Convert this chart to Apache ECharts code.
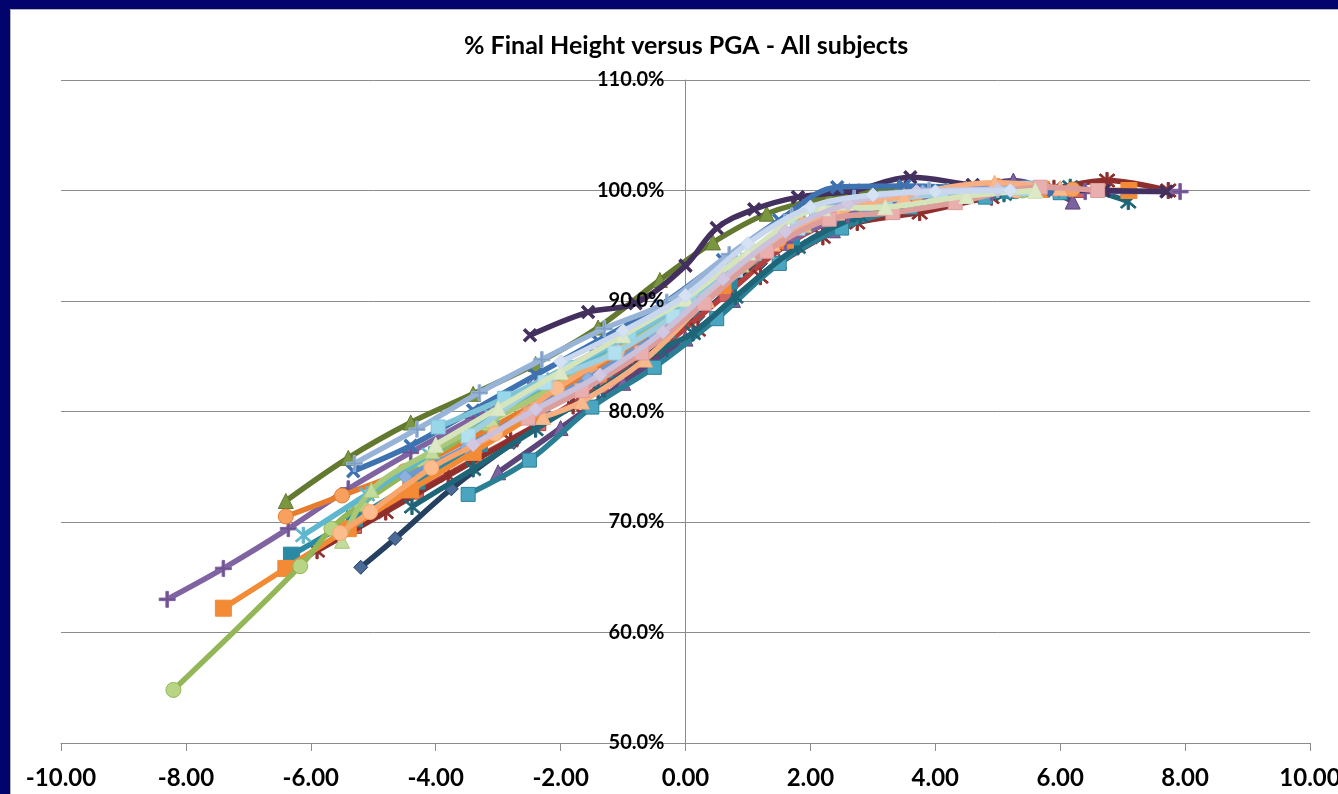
<!DOCTYPE html>
<html>
<head>
<meta charset="utf-8">
<script src="https://cdn.jsdelivr.net/npm/echarts@6/dist/echarts.min.js"></script>
<style>
  html, body { margin: 0; padding: 0; background: #03036e; }
  #frame { position: absolute; left: 10px; top: 9px; right: 0; bottom: 0; background: #fff; border-top: 1px solid #b4b4b4; border-left: 1px solid #b4b4b4; }
  #chart { position: absolute; left: 0; top: 0; width: 1338px; height: 794px; }
</style>
</head>
<body>
<div id="frame"></div>
<div id="chart"></div>
<script>
// PGA (x) vs % of final height (y), one array per subject
const s01 = [[-5.2,65.9],[-4.65,68.5],[-3.75,73.0],[-2.75,77.2],[-1.8,80.6],[-0.8,84.6],[0.2,88.6],[1.2,93.4],[2.2,97.0],[3.3,99.0],[4.5,99.8],[5.8,100.0]]
const s02 = [[-6.31,66.1],[-5.3,69.6],[-4.31,72.7],[-3.34,75.8],[-2.35,78.9],[-1.35,82.3],[-0.35,86.0],[0.65,90.6],[1.65,95.2],[2.7,98.0],[3.9,99.4],[5.2,99.9],[6.3,100.0]]
const s03 = [[-6.4,71.9],[-5.4,75.8],[-4.4,79.0],[-3.4,81.6],[-2.4,84.3],[-1.4,87.6],[-0.41,91.9],[0.44,95.3],[1.3,97.9],[2.3,99.4],[3.4,100.1],[4.7,100.2]]
const s04 = [[-8.3,63.0],[-7.4,65.8],[-6.36,69.4],[-5.4,73.0],[-4.4,76.3],[-3.4,79.4],[-2.4,82.5],[-1.4,85.5],[-0.4,88.4],[0.6,91.9],[1.6,95.3],[2.6,97.8],[3.7,99.2],[4.9,99.8],[6.4,99.9],[7.92,99.9]]
const s05 = [[-8.2,54.8],[-6.17,66.0],[-5.67,69.4],[-5.2,71.6],[-4.2,75.4],[-3.2,78.9],[-2.2,82.3],[-1.2,85.7],[-0.2,89.2],[0.8,93.2],[1.8,96.8],[2.8,98.8],[4.0,99.7],[5.4,100.0]]
const s06 = [[-7.4,62.2],[-6.4,65.8],[-5.4,69.4],[-4.4,72.9],[-3.4,76.3],[-2.4,79.8],[-1.4,83.4],[-0.4,87.1],[0.6,91.4],[1.6,95.5],[2.7,98.3],[4.0,99.6],[5.7,100.1],[7.1,100.0]]
const s07 = [[-6.4,70.5],[-5.5,72.4],[-4.5,74.6],[-3.5,77.4],[-2.5,80.4],[-1.5,83.6],[-0.5,87.0],[0.5,91.2],[1.5,95.5],[2.5,98.2],[3.7,99.6],[5.0,100.4],[6.2,100.1]]
const s08 = [[-3.48,72.5],[-2.5,75.6],[-1.5,80.4],[-0.5,84.0],[0.5,88.4],[1.5,93.4],[2.5,96.6],[3.6,98.5],[4.8,99.4],[6.0,99.8]]
const s09 = [[-2.49,86.9],[-1.56,89.0],[-0.8,89.8],[0.0,93.2],[0.5,96.6],[1.1,98.3],[1.8,99.4],[2.7,100.0],[3.6,101.2],[4.6,100.5],[5.6,100.1],[6.7,100.0],[7.7,99.9]]
const s10 = [[-6.12,68.8],[-5.1,72.5],[-4.1,76.1],[-3.1,79.6],[-2.1,82.9],[-1.1,86.1],[-0.1,89.4],[0.9,93.6],[1.9,97.1],[3.0,99.1],[4.2,99.9],[5.5,100.1]]
const s11 = [[-6.31,67.0],[-5.3,70.3],[-4.3,73.7],[-3.3,77.1],[-2.3,80.4],[-1.3,83.8],[-0.3,87.4],[0.7,91.8],[1.7,95.8],[2.8,98.4],[4.0,99.6],[5.2,100.0]]
const s12 = [[-5.5,68.3],[-5.03,72.9],[-4.06,76.4],[-3.1,79.2],[-2.1,82.2],[-1.1,85.5],[-0.1,89.0],[0.9,93.3],[1.9,96.9],[3.0,98.9],[4.3,99.8],[5.6,100.0]]
const s13 = [[-4.38,71.4],[-3.4,74.8],[-2.4,78.4],[-1.4,81.9],[-0.4,85.6],[0.12,87.1],[0.8,90.4],[1.8,94.9],[2.8,97.7],[3.9,99.1],[5.1,99.7],[6.16,100.3],[7.09,99.0]]
const s14 = [[-5.32,74.6],[-4.4,76.9],[-3.4,80.1],[-2.4,83.3],[-1.4,86.4],[-0.4,89.6],[0.6,93.7],[1.5,97.3],[2.43,100.3],[3.5,100.4],[4.7,100.2],[5.9,100.0]]
const s15 = [[-5.3,75.3],[-4.3,78.4],[-3.3,81.7],[-2.3,84.7],[-1.3,87.5],[-0.3,89.9],[0.7,94.2],[1.7,97.7],[2.7,99.3],[3.9,100.0],[5.0,100.1]]
const s16 = [[-3.96,78.6],[-2.9,81.2],[-1.9,84.0],[-0.9,86.9],[0.1,90.2],[1.1,94.3],[2.1,97.6],[3.2,99.3],[4.4,99.9],[5.5,100.2]]
const s17 = [[-3.48,77.8],[-2.25,82.6],[-1.13,85.3],[-0.2,88.6],[0.8,92.8],[1.8,96.6],[2.9,98.8],[4.1,99.7],[5.4,100.2]]
const s18 = [[-5.53,69.0],[-5.05,70.9],[-4.07,74.9],[-3.05,78.0],[-2.06,82.1],[-1.1,85.4],[-0.1,88.9],[0.9,93.3],[1.9,96.9],[3.0,98.9],[4.2,99.8],[5.3,100.0]]
const s19 = [[-2.52,79.4],[-1.66,81.9],[-0.7,85.3],[0.3,89.8],[1.3,94.5],[2.3,97.4],[3.32,98.0],[4.32,98.9],[5.68,100.3],[6.6,100.0]]
const s20 = [[-4.0,77.0],[-3.0,80.3],[-2.0,83.6],[-1.0,86.9],[0.0,90.2],[1.0,94.4],[2.2,98.4],[3.2,98.5],[4.5,99.5],[5.6,100.0]]
const s21 = [[-2.28,79.5],[-1.66,80.9],[-0.65,84.7],[0.34,90.1],[1.4,95.2],[2.43,98.0],[3.5,99.5],[4.95,100.7],[6.0,100.2]]
const s22 = [[-5.9,67.4],[-4.8,70.9],[-3.8,74.2],[-2.8,77.4],[-1.8,80.5],[-0.8,83.8],[0.2,87.4],[1.2,92.2],[2.2,95.8],[2.75,97.1],[3.75,98.0],[4.9,99.4],[5.9,100.2],[6.75,100.9],[7.73,100.0]]
const s23 = [[-3.4,77.0],[-2.4,80.2],[-1.37,83.3],[-0.36,87.2],[0.6,92.0],[1.6,96.3],[2.6,98.8],[3.7,99.9],[5.0,100.1]]
const s24 = [[-4.49,74.1],[-3.5,76.8],[-2.5,80.0],[-1.56,83.0],[-0.5,86.8],[0.5,91.3],[1.5,95.8],[2.6,98.9],[3.8,99.9],[5.0,100.2]]
const s25 = [[-3.0,74.5],[-2.0,78.5],[-1.0,82.6],[0.0,86.6],[0.76,90.1],[1.5,93.6],[2.36,96.4],[3.3,98.5],[4.3,99.5],[5.25,100.9],[6.2,99.0]]
const s26 = [[-2.0,84.5],[-1.0,87.3],[0.0,90.5],[1.0,95.2],[2.0,98.5],[3.0,99.6],[4.0,99.9],[5.2,100.0]]

const subjects = [s01, s02, s22, s25, s08, s13, s11, s06, s04, s03, s09, s07, s05, s10, s14, s24, s12, s18, s15, s16, s17, s21, s19, s20, s23, s26]

// marker shapes
const PLUS = 'path://M4.2,0H5.8V4.2H10V5.8H5.8V10H4.2V5.8H0V4.2H4.2Z'
const STAR = 'path://M4.4,0H5.6V10H4.4Z M0.7,1.5L1.5,0.7L9.3,8.5L8.5,9.3Z M8.5,0.7L9.3,1.5L1.5,9.3L0.7,8.5Z'
const DASH = 'path://M0,3.8H10V6.2H0Z'

// [line colour, marker, marker fill, rotate] in the same order as subjects
const looks = [
  ['#254061', 'diamond', '#4a6b98', 0],
  ['#b3403d', 'rect', '#d26663', 0],
  ['#8e2f2d', STAR, '#8e2f2d', 0],
  ['#5b4479', 'triangle', '#7a63a0', 0],
  ['#2a7f95', 'rect', '#4aa6c0', 0],
  ['#1f6578', STAR, '#1f6578', 0],
  ['#2b8aa3', DASH, '#2b8aa3', 0],
  ['#f38a36', DASH, '#f38a36', 0],
  ['#8064a2', PLUS, '#6d5290', 0],
  ['#62792f', 'triangle', '#7a9640', 0],
  ['#44305f', PLUS, '#44305f', 45],
  ['#e77c2c', 'circle', '#f7a060', 0],
  ['#93b656', 'circle', '#b7d584', 0],
  ['#5fb7cf', STAR, '#5fb7cf', 0],
  ['#3f72b0', PLUS, '#3f72b0', 45],
  ['#6d97cf', 'diamond', '#8cb1e0', 0],
  ['#a9c978', 'triangle', '#c3db9c', 0],
  ['#f9a66c', 'circle', '#fbbd8e', 0],
  ['#97b4d8', PLUS, '#7f9ec6', 0],
  ['#7cc3d8', 'rect', '#98d6ea', 0],
  ['#9ed0e2', 'rect', '#b3e0ef', 0],
  ['#f7ae80', 'triangle', '#f9b98e', 0],
  ['#dd9d9b', 'rect', '#e9afae', 0],
  ['#d6e4bc', 'triangle', '#dde9c6', 0],
  ['#cbc1db', 'diamond', '#d2c8e2', 0],
  ['#c9d8ee', 'diamond', '#d5e2f3', 0]
]

function markerSize(sym) {
  if (sym === 'circle') return 15
  if (sym === 'rect') return 14
  if (sym === 'triangle') return 15
  if (sym === 'diamond') return 14
  return 16
}

let series = subjects.map(function (d, i) {
  const lk = looks[i]
  return {
    type: 'line',
    data: d,
    smooth: 0.35,
    symbol: lk[1],
    symbolSize: markerSize(lk[1]),
    symbolRotate: lk[3],
    z: 3 + i,
    lineStyle: { color: lk[0], width: 5.5 },
    itemStyle: { color: lk[2], borderColor: lk[0], borderWidth: 1 },
    emphasis: { disabled: true },
    animation: false
  }
})

const gridLeft = 61, gridRight = 28, chartW = 1338
// distance from the grid's left edge to x = 0 (value axis runs -10..10)
const zeroOffset = (chartW - gridLeft - gridRight) / 2

let myChart = echarts.init(document.getElementById('chart'))
myChart.setOption({
  animation: false,
  title: {
    text: '% Final Height versus PGA - All subjects',
    left: 459,
    top: 28,
    textStyle: { fontFamily: 'Lato', fontWeight: 'bold', fontSize: 25, color: '#000' }
  },
  grid: { left: gridLeft, right: gridRight, top: 80, bottom: 51, containLabel: false, outerBoundsMode: 'none' },
  xAxis: {
    type: 'value',
    min: -10,
    max: 10,
    interval: 2,
    axisLine: { onZero: false, lineStyle: { color: '#8c8c8c', width: 1 } },
    axisTick: { show: true, length: 8, lineStyle: { color: '#8c8c8c' } },
    splitLine: { show: false },
    axisLabel: {
      margin: 23,
      color: '#000',
      fontFamily: 'Lato',
      fontWeight: 'bold',
      fontSize: 24,
      formatter: function (v) { return v.toFixed(2) }
    }
  },
  yAxis: [{
    type: 'value',
    min: 50,
    max: 110,
    interval: 10,
    position: 'left',
    axisLine: { show: true, onZero: true, lineStyle: { color: '#8c8c8c', width: 1 } },
    axisTick: { show: false },
    axisLabel: { show: false },
    splitLine: { show: true, lineStyle: { color: '#8c8c8c', width: 1 } },
    z: 0
  }, {
    type: 'value',
    min: 50,
    max: 110,
    interval: 10,
    position: 'left',
    offset: -zeroOffset,
    axisLine: { show: false, onZero: false },
    axisTick: { show: false },
    splitLine: { show: false },
    axisLabel: {
      margin: 21,
      color: '#000',
      fontFamily: 'Lato',
      fontWeight: 'bold',
      fontSize: 20,
      formatter: function (v) { return v.toFixed(1) + '%' }
    },
    z: 100
  }],
  series: series
})
</script>
</body>
</html>
